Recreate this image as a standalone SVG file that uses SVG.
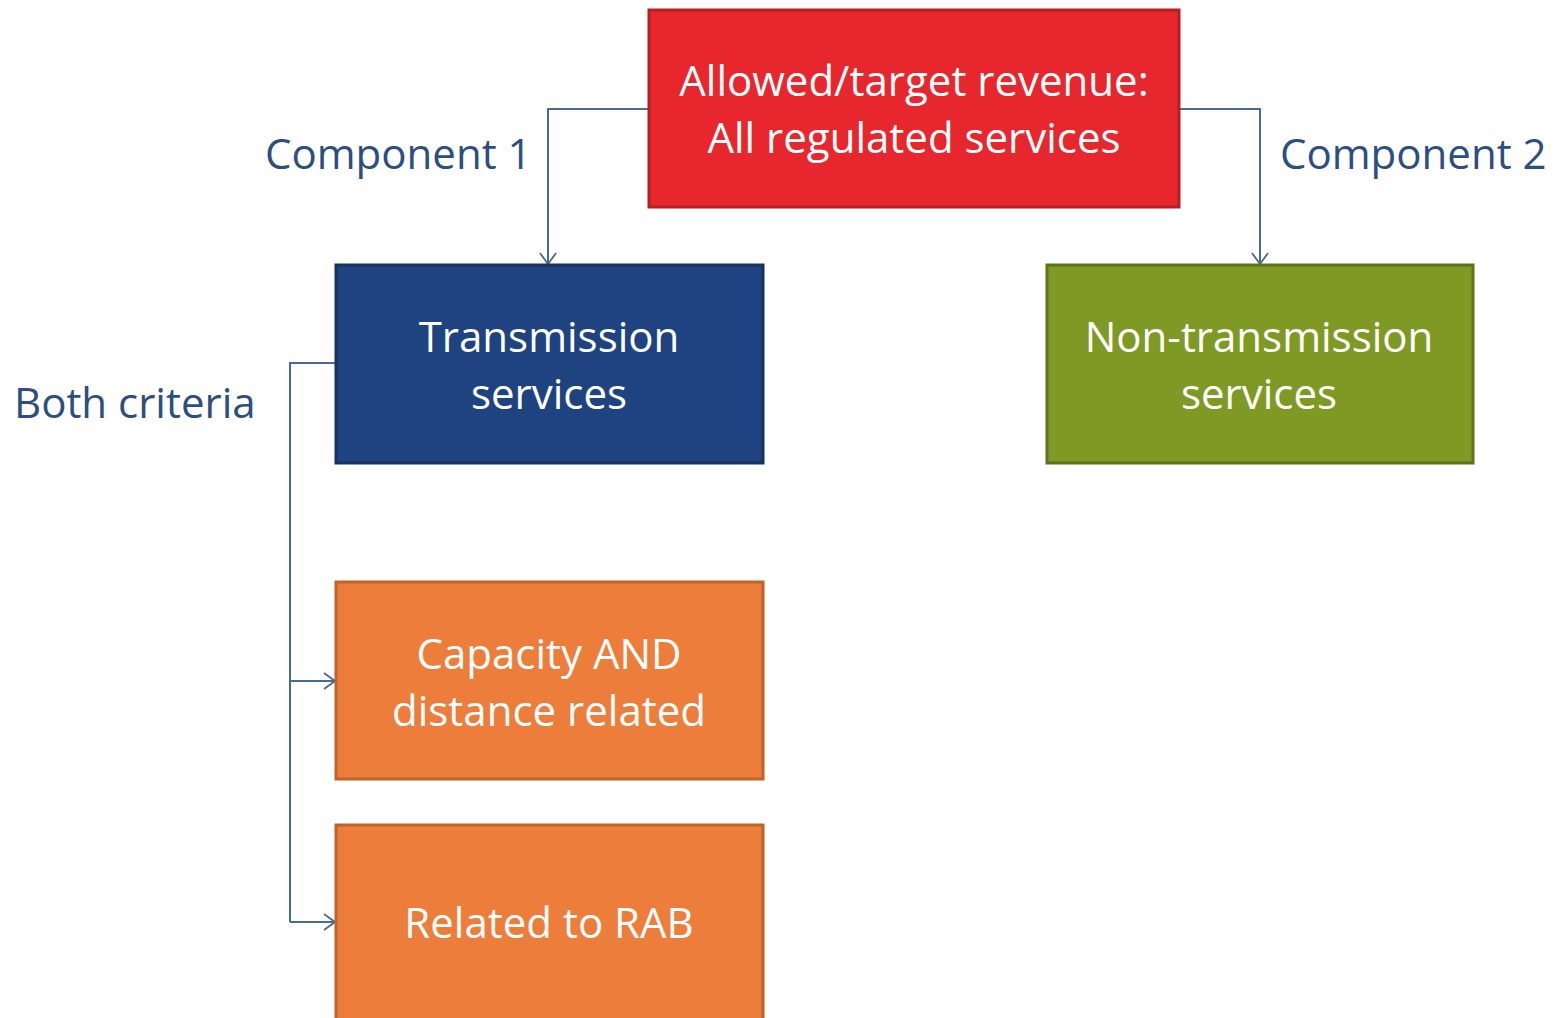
<svg xmlns="http://www.w3.org/2000/svg" width="1555" height="1018" viewBox="0 0 1555 1018">
<style>
.box{stroke-width:3}
.t{font-family:"Open Sans","Liberation Sans",sans-serif;font-size:42px;fill:#ffffff;text-anchor:middle}
.lbl{font-family:"Open Sans","Liberation Sans",sans-serif;font-size:42px;fill:#2C4E80}
.c{fill:none;stroke:#4A6A90;stroke-width:2}
</style>
<defs>
<marker id="arr" viewBox="0 0 18 18" refX="17" refY="9" markerWidth="18" markerHeight="18" markerUnits="userSpaceOnUse" orient="auto">
<path d="M6,1 L17,9 L6,17" fill="none" stroke="#4A6A90" stroke-width="1.8"/>
</marker>
</defs>
<rect width="1555" height="1018" fill="#ffffff"/>
<g id="connectors">
<path class="c" d="M649,109 H548 V264" marker-end="url(#arr)"/>
<path class="c" d="M1179,109 H1260 V264" marker-end="url(#arr)"/>
<path class="c" d="M336,363 H290 V922"/>
<path class="c" d="M290,681 H335" marker-end="url(#arr)"/>
<path class="c" d="M290,922 H335" marker-end="url(#arr)"/>
</g>
<g id="label-c1"><text class="lbl" x="265" y="169">Component 1</text></g>
<g id="label-c2"><text class="lbl" x="1280" y="169">Component 2</text></g>
<g id="label-both"><text class="lbl" x="14" y="418">Both criteria</text></g>
<g id="node-revenue">
<rect class="box" x="649" y="10" width="530" height="197" fill="#E8262D" stroke="#B51F24"/>
<text class="t" x="914" y="96">Allowed/target revenue:</text>
<text class="t" x="914" y="153">All regulated services</text>
</g>
<g id="node-transmission">
<rect class="box" x="336" y="265" width="427" height="198" fill="#1F4380" stroke="#17325F"/>
<text class="t" x="549" y="352">Transmission</text>
<text class="t" x="549" y="409">services</text>
</g>
<g id="node-nontransmission">
<rect class="box" x="1047" y="265" width="426" height="198" fill="#7F9A24" stroke="#5E7318"/>
<text class="t" x="1259" y="352">Non-transmission</text>
<text class="t" x="1259" y="409">services</text>
</g>
<g id="node-capacity">
<rect class="box" x="336" y="582" width="427" height="197" fill="#ED7D3A" stroke="#C0622B"/>
<text class="t" x="549" y="669">Capacity AND</text>
<text class="t" x="549" y="726">distance related</text>
</g>
<g id="node-rab">
<rect class="box" x="336" y="825" width="427" height="210" fill="#ED7D3A" stroke="#C0622B"/>
<text class="t" x="549" y="938">Related to RAB</text>
</g>
</svg>
